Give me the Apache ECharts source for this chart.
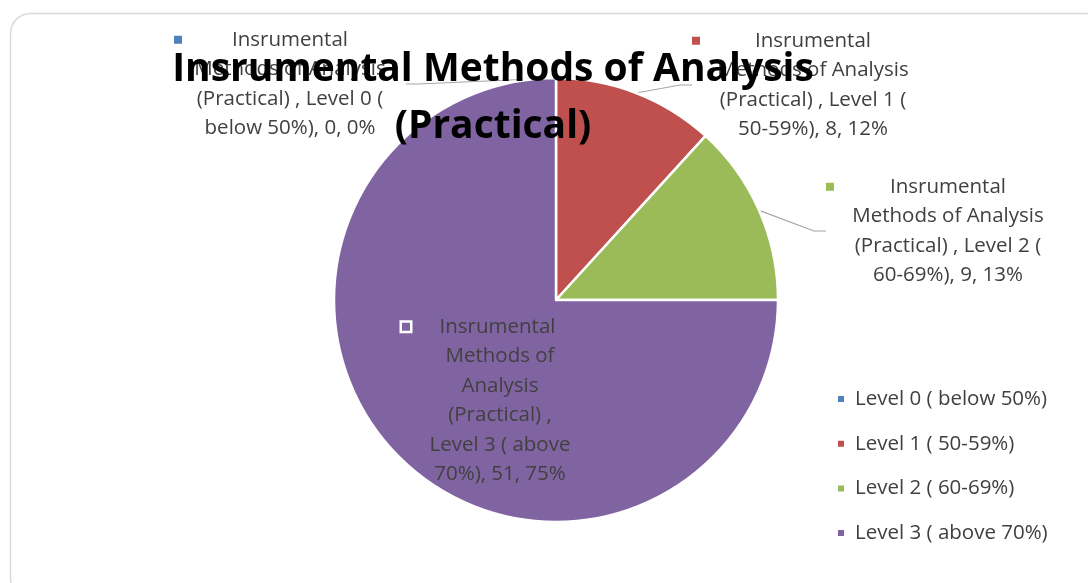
<!DOCTYPE html>
<html>
<head>
<meta charset="utf-8">
<script src="https://cdn.jsdelivr.net/npm/echarts@6/dist/echarts.min.js"></script>
<style>
  html, body { margin: 0; padding: 0; background: #fff; }
  #container { width: 1088px; height: 583px; }
</style>
</head>
<body>
<div id="container"></div>
<script>
const chartTitle = "Insrumental Methods of Analysis\n(Practical)";
const categories = ["Level 0 ( below 50%)", "Level 1 ( 50-59%)", "Level 2 ( 60-69%)", "Level 3 ( above 70%)"];
const values = [0, 8, 9, 51];
const colors = ["#4f81bd", "#c0504d", "#9bbb59", "#8064a2"];
// wrapped label text (Excel style), value and percent get appended
const labelHeads = [
  ["Insrumental", "Methods of Analysis", "(Practical) , Level 0 (", "below 50%), "],
  ["Insrumental", "Methods of Analysis", "(Practical) , Level 1 (", "50-59%), "],
  ["Insrumental", "Methods of Analysis", "(Practical) , Level 2 (", "60-69%), "],
  ["Insrumental", "Methods of", "Analysis", "(Practical) ,", "Level 3 ( above", "70%), "],
];

// label boxes: left, top, width
const labelBoxes = [
  [174, 25, 232],
  [692, 26, 242],
  [826, 172, 244],
  [402, 312, 196],
];

const textColor = "#404040";
const font = "Open Sans";
const fs = 20.5;

const dom = document.getElementById("container");
const myChart = echarts.init(dom, null, { renderer: "canvas" });

const pieData = values.map((v, i) => {
  const inside = i === 3;
  const mSize = 8;
  return {
    name: categories[i],
    value: v,
    itemStyle: { color: colors[i] },
    labelLine: { show: !inside },
    label: {
      width: labelBoxes[i][2],
      formatter: (p) => {
        const lines = labelHeads[i].slice();
        lines[lines.length - 1] += p.value + ", " + Math.round(p.percent) + "%";
        return lines
          .map((l, k) => (k === 0 ? "{m|}{t|" + l + "}{r|}" : "{t|" + l + "}"))
          .join("\n");
      },
      rich: {
        m: {
          width: mSize,
          height: mSize,
          align: "left",
          verticalAlign: "middle",
          backgroundColor: colors[i],
          borderColor: inside ? "#fff" : "transparent",
          borderWidth: inside ? 2.5 : 0,
        },
        r: { width: mSize + (inside ? 5 : 0), height: mSize, align: "right" },
        t: {
          align: "center",
          fontFamily: font,
          fontSize: fs,
          color: textColor,
          lineHeight: 29.5,
        },
      },
    },
  };
});

const option = {
  animation: false,
  backgroundColor: "#fff",
  graphic: [
    {
      type: "rect",
      shape: { x: 10.5, y: 13.5, width: 1095, height: 585, r: 20 },
      style: { fill: "none", stroke: "#d9d9d9", lineWidth: 1.5 },
      silent: true,
      z: -1,
    },
  ],
  title: {
    text: chartTitle,
    left: 488,
    top: 36,
    textAlign: "center",
    textStyle: {
      fontFamily: font,
      fontWeight: "bold",
      fontSize: 39,
      lineHeight: 57,
      color: "#000",
    },
  },
  legend: {
    orient: "vertical",
    left: 831,
    top: 382,
    icon: "rect",
    itemWidth: 8,
    itemHeight: 8,
    itemGap: 20.7,
    data: categories,
    textStyle: {
      fontFamily: font,
      fontSize: fs,
      color: textColor,
      lineHeight: 24,
      padding: [0, 0, 0, 5],
    },
  },
  series: [
    {
      name: "Insrumental Methods of Analysis (Practical) ",
      type: "pie",
      center: [556, 300],
      radius: 222,
      startAngle: 90,
      clockwise: true,
      avoidLabelOverlap: false,
      itemStyle: { borderColor: "#fff", borderWidth: 2.5 },
      label: {
        show: true,
        position: "outside",
        lineHeight: 29.5,
        fontFamily: font,
        fontSize: fs,
        color: textColor,
      },
      labelLine: {
        show: true,
        length: 20,
        length2: 12,
        lineStyle: { color: "#a6a6a6", width: 1.2 },
      },
      labelLayout: (params) => {
        const b = labelBoxes[params.dataIndex];
        return { x: b[0], y: b[1], align: "left", verticalAlign: "top" };
      },
      emphasis: { disabled: true },
      data: pieData,
    },
  ],
};

myChart.setOption(option);
window.addEventListener("resize", myChart.resize);
</script>
</body>
</html>
